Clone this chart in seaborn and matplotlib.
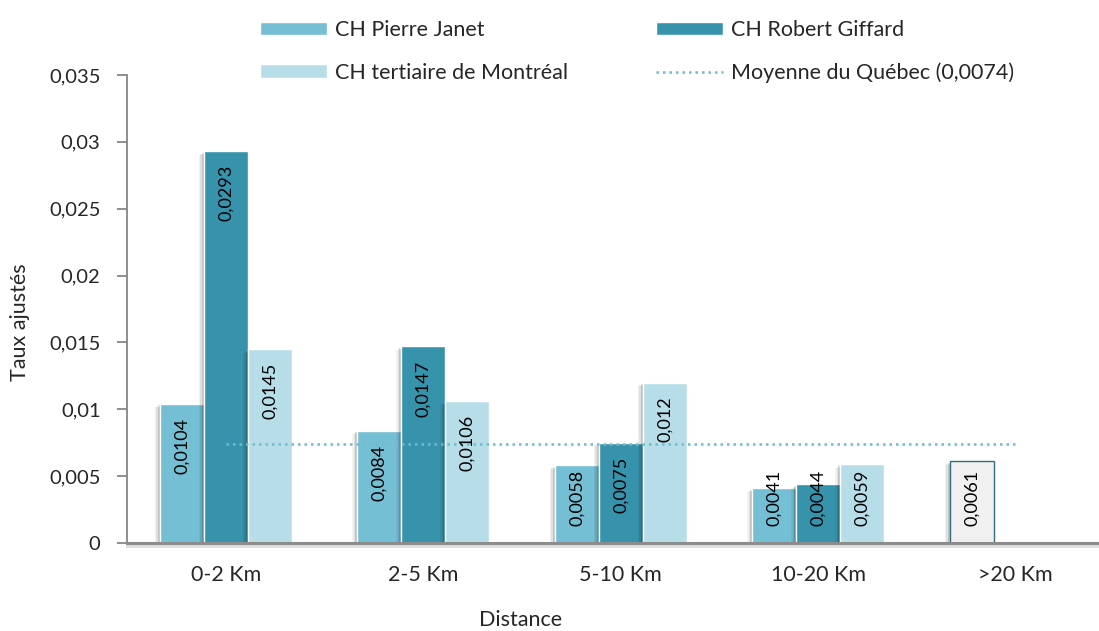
import matplotlib
matplotlib.use("Agg")
import matplotlib.pyplot as plt
import matplotlib.patheffects as pe
from matplotlib.patches import Patch
from matplotlib.lines import Line2D
import seaborn as sns
import pandas as pd
import numpy as np

categories = ["0-2 Km", "2-5 Km", "5-10 Km", "10-20 Km", ">20 Km"]
series = ["CH Pierre Janet", "CH Robert Giffard", "CH tertiaire de Montréal"]
pierre_janet = [0.0104, 0.0084, 0.0058, 0.0041, np.nan]
robert_giffard = [0.0293, 0.0147, 0.0075, 0.0044, np.nan]
tertiaire = [0.0145, 0.0106, 0.0120, 0.0059, np.nan]
other_gt20 = 0.0061
quebec_avg = 0.0074
quebec_label = "Moyenne du Québec (0,0074)"
yticks = [0, 0.005, 0.01, 0.015, 0.02, 0.025, 0.03, 0.035]
ytick_labels = ["0", "0,005", "0,01", "0,015", "0,02", "0,025", "0,03", "0,035"]

colors = ["#74BFD4", "#3793AC", "#B7DEE8"]

sns.set_theme(style="white")
plt.rcParams["font.family"] = ["Lato", "DejaVu Sans"]


def fmt(v):
    return f"{v:.4f}".rstrip("0").replace(".", ",")


rows = []
for s, vals in zip(series, [pierre_janet, robert_giffard, tertiaire]):
    for c, v in zip(categories, vals):
        rows.append({"Distance": c, "Série": s, "Taux": v})
df = pd.DataFrame(rows)

fig = plt.figure(figsize=(10.99, 6.31), dpi=100)
ax = fig.add_axes([127 / 1099, 1 - 543 / 631, 987.5 / 1099, 468 / 631])

group_width = 0.67
sns.barplot(data=df, x="Distance", y="Taux", hue="Série", order=categories,
            hue_order=series, palette=colors, width=group_width, dodge=True,
            saturation=1, errorbar=None, legend=False, ax=ax, zorder=3)

shadow = [pe.SimplePatchShadow(offset=(-3.5, -2.5), shadow_rgbFace="black", alpha=0.05),
          pe.SimplePatchShadow(offset=(-2.5, -2), shadow_rgbFace="black", alpha=0.08),
          pe.SimplePatchShadow(offset=(-1.5, -1), shadow_rgbFace="black", alpha=0.12),
          pe.Normal()]
bar_w = group_width / len(series)
for p in ax.patches:
    p.set_path_effects(shadow)

# >20 Km extra bar (first slot)
x_extra = categories.index(">20 Km") - bar_w
bars = ax.bar([x_extra], [other_gt20], width=bar_w, color="#F0F0F0", edgecolor="#2E6E7E",
              linewidth=1.0, zorder=3)
for b in bars:
    b.set_path_effects(shadow)

label_size = 13
short_limit = 0.0066


def put_label(x, h):
    if h < short_limit:
        ax.annotate(fmt(h), (x, 0), xytext=(0, 12), textcoords="offset points",
                    rotation=90, ha="center", va="bottom", fontsize=label_size,
                    color="black", zorder=5)
    else:
        ax.annotate(fmt(h), (x, h), xytext=(0, -10), textcoords="offset points",
                    rotation=90, ha="center", va="top", fontsize=label_size,
                    color="black", zorder=5)


for cont in ax.containers[:len(series)]:
    for rect in cont:
        h = rect.get_height()
        if np.isnan(h) or h == 0:
            continue
        put_label(rect.get_x() + rect.get_width() / 2, h)
put_label(x_extra, other_gt20)

# Québec average dotted line
ax.plot(range(len(categories)), [quebec_avg] * len(categories), linestyle=(0, (1, 1.6)),
        color="#6DBCD0", linewidth=1.8, zorder=4)

ax.set_xlim(-0.5, len(categories) - 0.5)
ax.set_ylim(0, 0.035)
ax.set_yticks(yticks)
ax.set_yticklabels(ytick_labels, fontsize=14.5)
ax.set_xticks(range(len(categories)))
ax.set_xticklabels(categories, fontsize=15.5)
ax.tick_params(axis="x", length=0, pad=16)
ax.set_xticks(np.arange(-0.5, len(categories), 1), minor=True)
ax.tick_params(axis="x", which="minor", length=8, width=1.5, color="#868686", direction="out")
ax.tick_params(axis="y", length=7, width=1.3, color="#868686", direction="out", pad=12, left=True)
ax.set_ylabel("Taux ajustés", fontsize=15.5)
ax.yaxis.set_label_coords((20 - 127) / 987.5, (543 - 322) / 468)
ax.set_xlabel("Distance", fontsize=15.5)
ax.xaxis.set_label_coords((521 - 127) / 987.5, (543 - 620) / 468)
ax.xaxis.label.set_va("center")
ax.yaxis.label.set_va("center")

for s in ["top", "right"]:
    ax.spines[s].set_visible(False)
ax.spines["left"].set_color("#868686")
ax.spines["left"].set_linewidth(1.3)
ax.spines["bottom"].set_color("#8C8C8C")
ax.spines["bottom"].set_linewidth(2.2)
ax.spines["bottom"].set_zorder(6)
ax.spines["bottom"].set_path_effects([pe.SimpleLineShadow(offset=(0, -2), shadow_color="black", alpha=0.12), pe.Normal()])
ax.grid(False)

handles = [Patch(facecolor=colors[0]), Patch(facecolor=colors[2]),
           Patch(facecolor=colors[1]),
           Line2D([0], [0], linestyle=(0, (1, 1.6)), color="#6DBCD0", linewidth=1.8)]
labels = [series[0], series[2], series[1], quebec_label]
fig.legend(handles, labels, ncol=2, frameon=False, loc="upper left",
           bbox_to_anchor=(260 / 1099, 1 - 20 / 631), fontsize=15.5, handlelength=3.1,
           handleheight=0.6, labelspacing=1.05, columnspacing=4.1, handletextpad=0.37,
           borderpad=0, borderaxespad=0)

fig.savefig("out.png", dpi=100)
